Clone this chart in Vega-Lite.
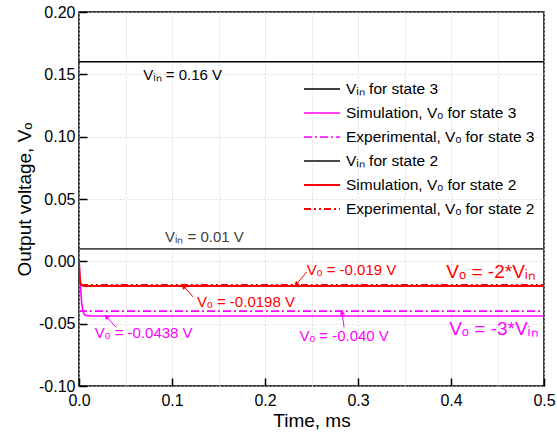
{
  "$schema": "https://vega.github.io/schema/vega-lite/v6.json",
  "width": 465,
  "height": 374,
  "padding": {"left": 15, "top": 4, "right": 0, "bottom": 5},
  "config": {
    "font": "Liberation Sans",
    "view": {"stroke": "#000", "strokeWidth": 1.5},
    "axis": {
      "domain": false,
      "grid": true,
      "gridColor": "#d0d0d0",
      "gridDash": [2, 2],
      "gridWidth": 0.8,
      "tickColor": "#000",
      "tickWidth": 1.5,
      "tickSize": -8,
      "labelFontSize": 16,
      "labelFlush": false,
      "labelOverlap": false,
      "labelColor": "#000",
      "titleFontSize": 19,
      "titleFontWeight": "normal",
      "titleColor": "#000"
    },
    "legend": {
      "orient": "none",
      "legendX": 233,
      "legendY": 67,
      "padding": 0,
      "labelFontSize": 15.5,
      "labelColor": "#000",
      "labelLimit": 400,
      "symbolType": "M-2,0H2",
      "symbolSize": 324,
      "rowPadding": 5,
      "labelOffset": 14
    }
  },
  "datasets": {
    "lines": [
      {"series": "Vᵢₙ for state 3", "t": 0, "v": 0.16},
      {"series": "Vᵢₙ for state 3", "t": 0.5, "v": 0.16},
      {"series": "Simulation, Vₒ for state 3", "t": 0, "v": 0},
      {"series": "Simulation, Vₒ for state 3", "t": 0.001, "v": -0.013},
      {"series": "Simulation, Vₒ for state 3", "t": 0.002, "v": -0.025},
      {"series": "Simulation, Vₒ for state 3", "t": 0.003, "v": -0.034},
      {"series": "Simulation, Vₒ for state 3", "t": 0.004, "v": -0.039},
      {"series": "Simulation, Vₒ for state 3", "t": 0.005, "v": -0.0415},
      {"series": "Simulation, Vₒ for state 3", "t": 0.006, "v": -0.0428},
      {"series": "Simulation, Vₒ for state 3", "t": 0.008, "v": -0.0435},
      {"series": "Simulation, Vₒ for state 3", "t": 0.012, "v": -0.0438},
      {"series": "Simulation, Vₒ for state 3", "t": 0.5, "v": -0.0438},
      {"series": "Experimental, Vₒ for state 3", "t": 0, "v": -0.04},
      {"series": "Experimental, Vₒ for state 3", "t": 0.5, "v": -0.04},
      {"series": "Vᵢₙ for state 2", "t": 0, "v": 0.01},
      {"series": "Vᵢₙ for state 2", "t": 0.5, "v": 0.01},
      {"series": "Simulation, Vₒ for state 2", "t": 0, "v": 0.001},
      {"series": "Simulation, Vₒ for state 2", "t": 0.0005, "v": -0.008},
      {"series": "Simulation, Vₒ for state 2", "t": 0.001, "v": -0.0135},
      {"series": "Simulation, Vₒ for state 2", "t": 0.0015, "v": -0.0165},
      {"series": "Simulation, Vₒ for state 2", "t": 0.002, "v": -0.0182},
      {"series": "Simulation, Vₒ for state 2", "t": 0.003, "v": -0.0193},
      {"series": "Simulation, Vₒ for state 2", "t": 0.005, "v": -0.0197},
      {"series": "Simulation, Vₒ for state 2", "t": 0.01, "v": -0.0198},
      {"series": "Simulation, Vₒ for state 2", "t": 0.5, "v": -0.0198},
      {"series": "Experimental, Vₒ for state 2", "t": 0.002, "v": -0.019},
      {"series": "Experimental, Vₒ for state 2", "t": 0.5, "v": -0.019}
    ]
  },
  "layer": [
    {
      "data": {"name": "lines"},
      "mark": {"type": "line", "clip": true},
      "encoding": {
        "x": {
          "field": "t", "type": "quantitative",
          "scale": {"domain": [0, 0.5], "nice": false},
          "title": "Time, ms",
          "axis": {
            "values": [0, 0.05, 0.1, 0.15, 0.2, 0.25, 0.3, 0.35, 0.4, 0.45, 0.5],
            "format": ".1f",
            "labelPadding": 14,
            "labelExpr": "abs(datum.value*10 - round(datum.value*10)) < 0.001 ? datum.label : ''",
            "tickOpacity": {"condition": {"test": "abs(datum.value*10 - round(datum.value*10)) < 0.001", "value": 1}, "value": 0},
            "titlePadding": 3
          }
        },
        "y": {
          "field": "v", "type": "quantitative",
          "scale": {"domain": [-0.1, 0.2], "nice": false},
          "title": "Output voltage, Vₒ",
          "axis": {
            "values": [-0.1, -0.075, -0.05, -0.025, 0, 0.025, 0.05, 0.075, 0.1, 0.125, 0.15, 0.175, 0.2],
            "format": ".2f",
            "labelPadding": 12,
            "labelExpr": "abs(datum.value*20 - round(datum.value*20)) < 0.001 ? replace(datum.label, '−', '-') : ''",
            "tickOpacity": {"condition": {"test": "abs(datum.value*20 - round(datum.value*20)) < 0.001", "value": 1}, "value": 0},
            "titlePadding": 4
          }
        },
        "color": {
          "field": "series", "type": "nominal",
          "scale": {
            "domain": ["Vᵢₙ for state 3", "Simulation, Vₒ for state 3", "Experimental, Vₒ for state 3", "Vᵢₙ for state 2", "Simulation, Vₒ for state 2", "Experimental, Vₒ for state 2"],
            "range": ["#000000", "#ff00ff", "#ff00ff", "#4a4a4a", "#ff0000", "#ff0000"]
          },
          "legend": {"title": null}
        },
        "strokeDash": {
          "field": "series", "type": "nominal",
          "scale": {
            "domain": ["Vᵢₙ for state 3", "Simulation, Vₒ for state 3", "Experimental, Vₒ for state 3", "Vᵢₙ for state 2", "Simulation, Vₒ for state 2", "Experimental, Vₒ for state 2"],
            "range": [[1, 0], [1, 0], [8, 3, 2, 3], [1, 0], [1, 0], [7, 3, 2, 3, 2, 3]]
          },
          "legend": {"title": null}
        },
        "strokeWidth": {
          "field": "series", "type": "nominal",
          "scale": {
            "domain": ["Vᵢₙ for state 3", "Simulation, Vₒ for state 3", "Experimental, Vₒ for state 3", "Vᵢₙ for state 2", "Simulation, Vₒ for state 2", "Experimental, Vₒ for state 2"],
            "range": [1.5, 2, 1.5, 1.5, 2, 2.5]
          },
          "legend": {"title": null}
        }
      }
    },
    {
      "data": {"values": [{"t": 0.069, "v": 0.1495, "label": "Vᵢₙ = 0.16 V"}]},
      "mark": {"type": "text", "align": "left", "baseline": "middle", "fontSize": 15, "color": "#000"},
      "encoding": {"x": {"field": "t", "type": "quantitative"}, "y": {"field": "v", "type": "quantitative"}, "text": {"field": "label"}}
    },
    {
      "data": {"values": [{"t": 0.0925, "v": 0.0196, "label": "Vᵢₙ = 0.01 V"}]},
      "mark": {"type": "text", "align": "left", "baseline": "middle", "fontSize": 15, "color": "#404040"},
      "encoding": {"x": {"field": "t", "type": "quantitative"}, "y": {"field": "v", "type": "quantitative"}, "text": {"field": "label"}}
    },
    {
      "data": {"values": [{"t": 0.127, "v": -0.0326, "label": "Vₒ = -0.0198 V"}, {"t": 0.245, "v": -0.0069, "label": "Vₒ = -0.019 V"}]},
      "mark": {"type": "text", "align": "left", "baseline": "middle", "fontSize": 15, "color": "#ff0000"},
      "encoding": {"x": {"field": "t", "type": "quantitative"}, "y": {"field": "v", "type": "quantitative"}, "text": {"field": "label"}}
    },
    {
      "data": {"values": [{"t": 0.395, "v": -0.0085, "label": "Vₒ = -2*Vᵢₙ"}]},
      "mark": {"type": "text", "align": "left", "baseline": "middle", "fontSize": 19, "color": "#ff0000"},
      "encoding": {"x": {"field": "t", "type": "quantitative"}, "y": {"field": "v", "type": "quantitative"}, "text": {"field": "label"}}
    },
    {
      "data": {"values": [{"t": 0.017, "v": -0.0574, "label": "Vₒ = -0.0438 V"}, {"t": 0.237, "v": -0.0598, "label": "Vₒ = -0.040 V"}]},
      "mark": {"type": "text", "align": "left", "baseline": "middle", "fontSize": 15, "color": "#ff00ff"},
      "encoding": {"x": {"field": "t", "type": "quantitative"}, "y": {"field": "v", "type": "quantitative"}, "text": {"field": "label"}}
    },
    {
      "data": {"values": [{"t": 0.398, "v": -0.054, "label": "Vₒ = -3*Vᵢₙ"}]},
      "mark": {"type": "text", "align": "left", "baseline": "middle", "fontSize": 19, "color": "#ff00ff"},
      "encoding": {"x": {"field": "t", "type": "quantitative"}, "y": {"field": "v", "type": "quantitative"}, "text": {"field": "label"}}
    },
    {
      "data": {"values": [{"t": 0.1226, "v": -0.0285, "t2": 0.113, "v2": -0.0205}, {"t": 0.245, "v": -0.0085, "t2": 0.234, "v2": -0.018}]},
      "mark": {"type": "rule", "color": "#ff0000", "strokeWidth": 1},
      "encoding": {"x": {"field": "t", "type": "quantitative"}, "y": {"field": "v", "type": "quantitative"}, "x2": {"field": "t2"}, "y2": {"field": "v2"}}
    },
    {
      "data": {"values": [{"t": 0.04, "v": -0.053, "t2": 0.03, "v2": -0.0447}, {"t": 0.285, "v": -0.053, "t2": 0.283, "v2": -0.0415}]},
      "mark": {"type": "rule", "color": "#ff00ff", "strokeWidth": 1},
      "encoding": {"x": {"field": "t", "type": "quantitative"}, "y": {"field": "v", "type": "quantitative"}, "x2": {"field": "t2"}, "y2": {"field": "v2"}}
    },
    {
      "data": {"values": [{"t": 0.113, "v": -0.0205}]},
      "mark": {"type": "point", "shape": "triangle", "filled": true, "size": 30, "angle": 318, "color": "#ff0000", "opacity": 1},
      "encoding": {"x": {"field": "t", "type": "quantitative"}, "y": {"field": "v", "type": "quantitative"}}
    },
    {
      "data": {"values": [{"t": 0.234, "v": -0.018}]},
      "mark": {"type": "point", "shape": "triangle", "filled": true, "size": 30, "angle": 228, "color": "#ff0000", "opacity": 1},
      "encoding": {"x": {"field": "t", "type": "quantitative"}, "y": {"field": "v", "type": "quantitative"}}
    },
    {
      "data": {"values": [{"t": 0.03, "v": -0.0447}]},
      "mark": {"type": "point", "shape": "triangle", "filled": true, "size": 30, "angle": 318, "color": "#ff00ff", "opacity": 1},
      "encoding": {"x": {"field": "t", "type": "quantitative"}, "y": {"field": "v", "type": "quantitative"}}
    },
    {
      "data": {"values": [{"t": 0.283, "v": -0.0415}]},
      "mark": {"type": "point", "shape": "triangle", "filled": true, "size": 30, "angle": 350, "color": "#ff00ff", "opacity": 1},
      "encoding": {"x": {"field": "t", "type": "quantitative"}, "y": {"field": "v", "type": "quantitative"}}
    }
  ]
}
